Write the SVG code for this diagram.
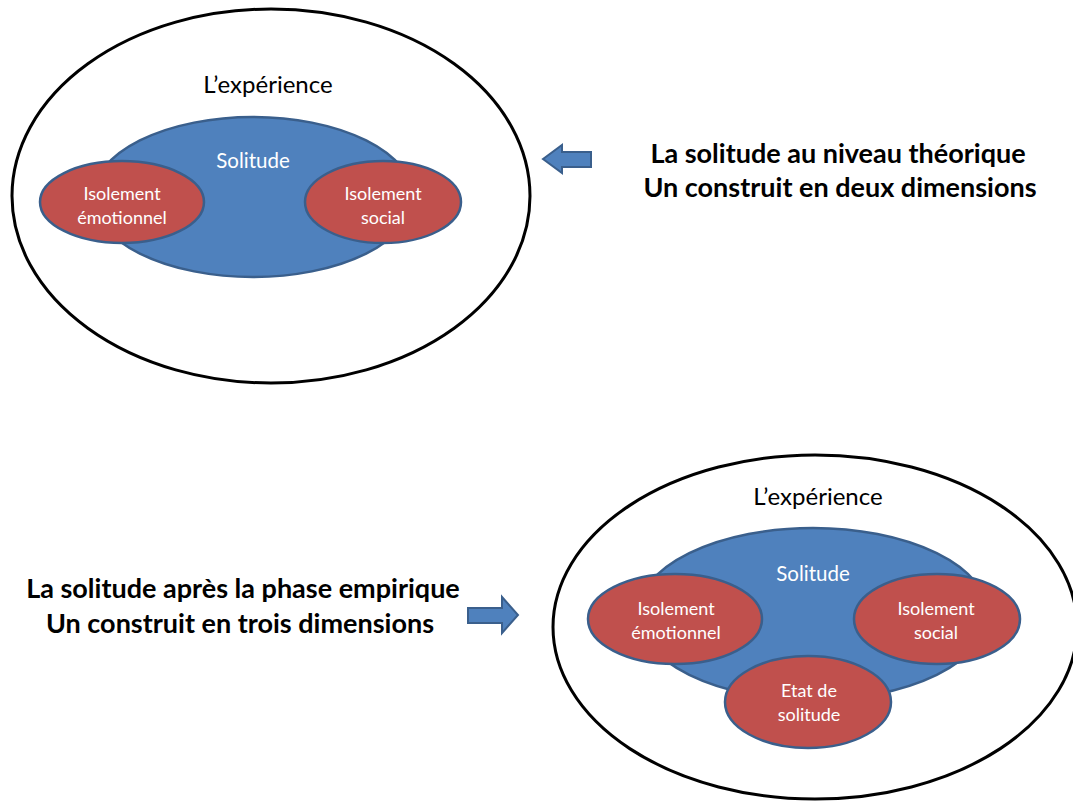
<svg xmlns="http://www.w3.org/2000/svg" width="1073" height="801" viewBox="0 0 1073 801">
<style>
.outer{fill:#fff;stroke:#000;stroke-width:3}
.blue{fill:#4F81BD;stroke:#3A5F8C;stroke-width:2.5}
.red{fill:#C0504D;stroke:#3A5F8C;stroke-width:2.5}
.arrow{fill:#4F81BD;stroke:#3A5F8C;stroke-width:2}
.t{font-family:Lato,"Liberation Sans",sans-serif;text-anchor:middle}
.w{fill:#fff;font-size:18px}
.k{fill:#000;font-size:24px}
.s{fill:#fff;font-size:20.5px}
.b{fill:#000;font-size:27px;font-weight:bold}
</style>
<rect width="1073" height="801" fill="#fff"/>
<g id="top-experience">
<ellipse class="outer" cx="271" cy="196" rx="259" ry="187"/>
<text class="t k" x="268" y="93">L’expérience</text>
</g>
<g id="top-solitude">
<ellipse class="blue" cx="253" cy="197" rx="160" ry="80"/>
<text class="t s" x="253" y="168">Solitude</text>
</g>
<g id="top-emotionnel">
<ellipse class="red" cx="122" cy="202" rx="82" ry="41"/>
<text class="t w" x="122" y="200">Isolement</text>
<text class="t w" x="122" y="224">émotionnel</text>
</g>
<g id="top-social">
<ellipse class="red" cx="383" cy="202" rx="78" ry="41"/>
<text class="t w" x="383" y="200">Isolement</text>
<text class="t w" x="383" y="224">social</text>
</g>
<g id="top-label">
<text class="t b" x="838" y="163">La solitude au niveau théorique</text>
<text class="t b" x="840" y="197">Un construit en deux dimensions</text>
</g>
<g id="bottom-experience">
<ellipse class="outer" cx="815" cy="627" rx="262" ry="172"/>
<text class="t k" x="818" y="505">L’expérience</text>
</g>
<g id="bottom-solitude">
<ellipse class="blue" cx="813" cy="614" rx="175" ry="86"/>
<text class="t s" x="813" y="581">Solitude</text>
</g>
<g id="bottom-emotionnel">
<ellipse class="red" cx="675" cy="619" rx="87" ry="45"/>
<text class="t w" x="676" y="615">Isolement</text>
<text class="t w" x="676" y="639">émotionnel</text>
</g>
<g id="bottom-social">
<ellipse class="red" cx="937" cy="619" rx="83" ry="45"/>
<text class="t w" x="936" y="615">Isolement</text>
<text class="t w" x="936" y="639">social</text>
</g>
<g id="bottom-etat">
<ellipse class="red" cx="808" cy="702" rx="83" ry="46"/>
<text class="t w" x="809" y="697">Etat de</text>
<text class="t w" x="809" y="721">solitude</text>
</g>
<g id="bottom-label">
<text class="t b" x="243" y="598">La solitude après la phase empirique</text>
<text class="t b" x="240" y="633">Un construit en trois dimensions</text>
</g>
<g id="connectors">
<polygon class="arrow" points="543,159 562,145 562,152 591,152 591,167 562,167 562,173"/>
<polygon class="arrow" points="468,608 502,608 502,597 518,615 502,633 502,623 468,623"/>
</g>
</svg>
